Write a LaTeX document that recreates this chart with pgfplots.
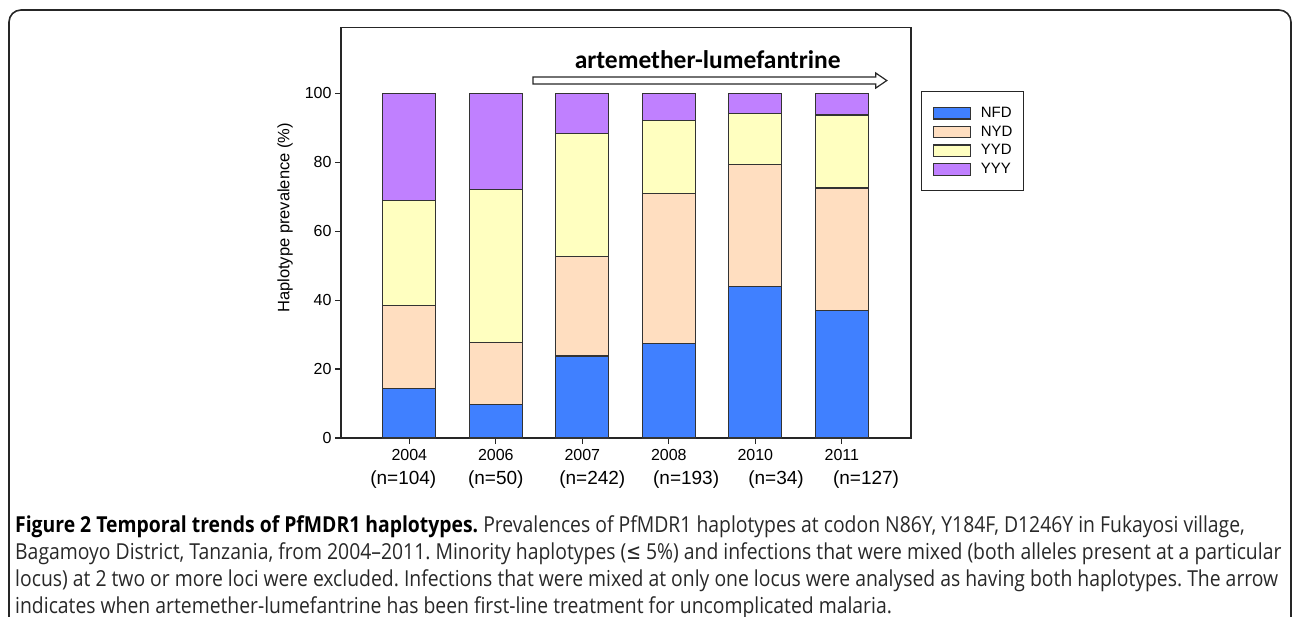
\documentclass[border=0pt]{standalone}
\usepackage{fontspec}
\setmainfont{Liberation Sans}
\newfontfamily\capfont{Open Sans}[FakeStretch=0.88]
\newfontfamily\lefont{DejaVu Sans}[FakeStretch=0.8]
\newfontfamily\arrfont{Carlito}
\usepackage{pgfplots}
\pgfplotsset{compat=1.18}
\definecolor{cNFD}{RGB}{64,128,255}
\definecolor{cNYD}{RGB}{255,222,192}
\definecolor{cYYD}{RGB}{255,255,192}
\definecolor{cYYY}{RGB}{192,128,255}
\definecolor{capgray}{RGB}{40,40,40}
\begin{document}
\frenchspacing
\begin{tikzpicture}
\path[use as bounding box] (0pt,0pt) rectangle (1292pt,616pt);
\draw[line width=1.6pt, black!85, rounded corners=12pt] (9pt,-5pt) -- (9pt,606pt) -- (1291pt,606pt) -- (1291pt,-5pt);
\begin{axis}[
  at={(341pt,178pt)}, anchor=south west,
  scale only axis, width=570pt, height=410.7pt,
  xmin=-0.79, xmax=5.8, ymin=0, ymax=119.15,
  ybar stacked, bar width=53pt,
  axis line style={line width=1.3pt, draw=black!85},
  xtick={0,...,5}, xticklabels={2004,2006,2007,2008,2010,2011},
  ytick={0,20,...,100},
  tick pos=left, tick align=outside, major tick length=6pt,
  tick style={line width=1.2pt, draw=black!85},
  /pgf/number format/assume math mode=true,
  ticklabel style={font=\fontsize{16}{16}\selectfont},
  xticklabel style={yshift=-2pt},
  ylabel={Haplotype prevalence (\%)},
  ylabel style={at={(rel axis cs:-0.098,0.536)}, anchor=center, font=\fontsize{16.5}{16.5}\selectfont},
  clip=false,
  legend style={at={(rel axis cs:1.0175,0.845)}, anchor=north west, draw=black!85, line width=1.2pt,
    font=\fontsize{15}{15}\selectfont, inner xsep=11pt, inner ysep=15pt, row sep=5.6pt,
    nodes={inner sep=0pt, text height=11pt, text depth=0pt},
    /tikz/every odd column/.append style={column sep=10pt}},
  legend cell align=left,
  every axis plot/.append style={draw=black!80, line width=1.3pt},
  every axis plot post/.append style={legend image code/.code={\draw[##1,line width=1.2pt] (0pt,-7pt) rectangle (37pt,4.5pt);}},
]
\addplot[fill=cNFD] coordinates {(0,14.4) (1,9.8) (2,23.8) (3,27.4) (4,43.9) (5,36.9)};
\addplot[fill=cNYD] coordinates {(0,24.0) (1,18.0) (2,28.9) (3,43.5) (4,35.5) (5,35.6)};
\addplot[fill=cYYD] coordinates {(0,30.5) (1,44.2) (2,35.7) (3,21.3) (4,14.7) (5,21.2)};
\addplot[fill=cYYY] coordinates {(0,31.1) (1,28.0) (2,11.6) (3,7.8) (4,5.9) (5,6.3)};
\legend{NFD,NYD,YYD,YYY}
\node[font=\fontsize{19}{19}\selectfont] at (axis cs:-0.07,-12.2) {(n=104)};
\node[font=\fontsize{19}{19}\selectfont] at (axis cs:1.0,-12.2) {(n=50)};
\node[font=\fontsize{19}{19}\selectfont] at (axis cs:2.115,-12.2) {(n=242)};
\node[font=\fontsize{19}{19}\selectfont] at (axis cs:3.2,-12.2) {(n=193)};
\node[font=\fontsize{19}{19}\selectfont] at (axis cs:4.24,-12.2) {(n=34)};
\node[font=\fontsize{19}{19}\selectfont] at (axis cs:5.28,-12.2) {(n=127)};
\draw[line width=1.2pt, black!85] ([yshift=3.5pt]axis cs:1.43,103.7) -- ([xshift=-11pt,yshift=3.5pt]axis cs:5.52,103.7) -- ([xshift=-11pt,yshift=7.5pt]axis cs:5.52,103.7) -- (axis cs:5.52,103.7) -- ([xshift=-11pt,yshift=-7.5pt]axis cs:5.52,103.7) -- ([xshift=-11pt,yshift=-3.5pt]axis cs:5.52,103.7) -- ([yshift=-3.5pt]axis cs:1.43,103.7) -- cycle;
\node[font=\arrfont\bfseries\fontsize{25.5}{25.5}\selectfont, anchor=base] at (axis cs:3.45,107.3) {artemether-lumefantrine};
\end{axis}
\begin{scope}[every node/.style={anchor=base west, inner sep=0pt, font=\capfont\fontsize{22}{22}\selectfont, text=capgray}]
\node at (15pt,84pt) {\textbf{\color{black}Figure 2 Temporal trends of PfMDR1 haplotypes.} Prevalences of PfMDR1 haplotypes at codon N86Y, Y184F, D1246Y in Fukayosi village,};
\node at (15pt,57pt) {Bagamoyo District, Tanzania, from 2004–2011. Minority haplotypes ({\lefont ≤} 5\%) and infections that were mixed (both alleles present at a particular};
\node at (15pt,30pt) {locus) at 2 two or more loci were excluded. Infections that were mixed at only one locus were analysed as having both haplotypes. The arrow};
\node at (15pt,3pt) {indicates when artemether-lumefantrine has been first-line treatment for uncomplicated malaria.};
\end{scope}
\end{tikzpicture}
\end{document}
